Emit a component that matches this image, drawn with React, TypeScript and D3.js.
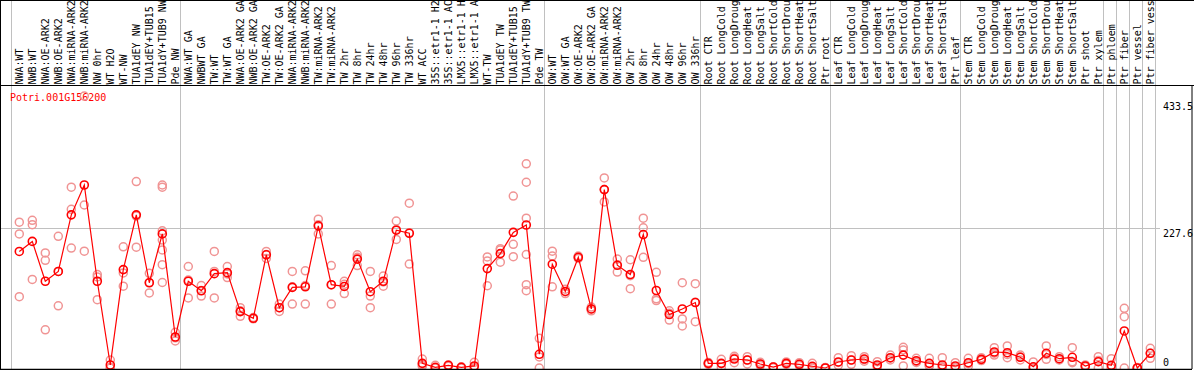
import React from "react";
import * as d3 from "d3";

const title = "Potri.001G156200";

const categories = [
  "NWA:WT", "NWB:WT", "NWA:OE-ARK2", "NWB:OE-ARK2", "NWA:miRNA-ARK2", "NWB:miRNA-ARK2",
  "NW 0hr", "WT H2O", "WT-NW", "TUA1dEY NW", "TUA1dEY+TUB15", "TUA1dY+TUB9 NW", "Pde NW",
  "NWA:WT GA", "NWBWT GA", "TW:WT", "TW:WT GA", "NWA:OE-ARK2 GA", "NWB:OE-ARK2 GA",
  "TW:OE-ARK2", "TW:OE-ARK2 GA", "NWA:miRNA-ARK2", "NWB:miRNA-ARK2", "TW:miRNA-ARK2",
  "TW:miRNA-ARK2", "TW 2hr", "TW 8hr", "TW 24hr", "TW 48hr", "TW 96hr", "TW 336hr",
  "WT ACC", "35S::etr1-1 H2", "35S::etr1-1 AC", "LMX5::etr1-1 H", "LMX5::etr1-1 A",
  "WT-TW", "TUA1dEY TW", "TUA1dEY+TUB15", "TUA1dY+TUB9 TW", "Pde TW",
  "OW:WT", "OW:WT GA", "OW:OE-ARK2", "OW:OE-ARK2 GA", "OW:miRNA-ARK2", "OW:miRNA-ARK2",
  "OW 2hr", "OW 8hr", "OW 24hr", "OW 48hr", "OW 96hr", "OW 336hr",
  "Root CTR", "Root LongCold", "Root LongDroug", "Root LongHeat", "Root LongSalt",
  "Root ShortCold", "Root ShortDrou", "Root ShortHeat", "Root ShortSalt", "Ptr root",
  "Leaf CTR", "Leaf LongCold", "Leaf LongDroug", "Leaf LongHeat", "Leaf LongSalt",
  "Leaf ShortCold", "Leaf ShortDrou", "Leaf ShortHeat", "Leaf ShortSalt", "Ptr leaf",
  "Stem CTR", "Stem LongCold", "Stem LongDroug", "Stem LongHeat", "Stem LongSalt",
  "Stem ShortCold", "Stem ShortDrou", "Stem ShortHeat", "Stem ShortSalt", "Ptr shoot",
  "Ptr xylem", "Ptr phloem", "Ptr fiber", "Ptr vessel", "Ptr fiber vess",
];

const means = [
  189.5, 205.8, 141, 157, 249, 297.5, 141, 4.9, 160, 249, 138.6, 218, 50.4,
  141, 125.6, 153.4, 155, 91.7, 80.8, 184, 98, 131, 132, 231, 135.4, 132.6, 177, 124, 141, 224, 219,
  7.6, 1.1, 4.4, 1.1, 3.3, 161.6, 186, 220.5, 232.5, 22.3,
  168.7, 124.4, 180, 96, 290, 167, 152, 217, 126, 87, 96, 106.4,
  7.6, 7.6, 14.6, 13, 6.5, 1.6, 7.6, 6, 2.8, 0,
  9.8, 13, 14.6, 4.9, 16.7, 21, 11.9, 7.6, 4.9, 3.3,
  8.6, 14.1, 26, 24.9, 17.4, 2, 23.9, 15.1, 17.4, 3.3,
  10.2, 4.4, 60.2, 0, 23.9,
];

const replicates = [
  [237, 218, 116], [240, 233, 144], [187, 175, 62], [214, 157, 101], [294, 258, 195],
  [442, 265, 190], [152, 148, 111], [13, 0, 0], [197, 154.5, 133], [303, 247, 196.5],
  [154, 139, 122], [297.5, 294, 223, 208, 192, 168, 139], [58, 49, 43.9],
  [165, 143, 114], [134, 126, 117], [189.5, 157, 114], [165, 153, 147], [98, 93, 84],
  [82, 81, 80], [189.5, 184.5, 178], [104, 98, 92], [157, 132, 104], [158, 134, 104],
  [242, 233, 218], [166.5, 135, 104], [141, 136, 121], [184, 180, 166.5], [157, 117, 98],
  [149.5, 140, 133], [239, 225, 209], [268, 220, 169],
  [14.6, 5, 3], [4.4, 0, 0], [5, 4, 3], [2, 1, 0], [9.3, 1, 0],
  [180.6, 174, 133.7], [194, 192, 172], [279.5, 201, 181], [332, 302, 243.5, 184.5, 135.4, 125.6],
  [48.3, 18, 0],
  [190, 182, 132], [128, 124, 121], [182, 180, 178], [99, 96, 93], [309, 290, 270],
  [177, 168, 156], [176, 150, 129], [243.5, 228, 180], [155.6, 112.4, 109.7], [93, 89, 78],
  [138.6, 79.7, 68.3], [137, 107, 75.3],
  [9, 7, 6], [14.1, 7, 1.1], [19, 16.3, 8.6], [18.4, 13, 6.5], [9.3, 6, 4],
  [2, 1, 1], [9.8, 7, 6], [8.6, 6, 4], [7.6, 1, 0], [1, 0, 0],
  [16.7, 9, 4.4], [20, 13, 6], [18.4, 14, 11], [10.2, 3, 1.5], [21, 16, 13],
  [33.6, 29.3, 3.3], [15.8, 10.2, 9], [15.8, 4, 3.3], [16.7, 2, 1], [8.6, 1, 0.5],
  [15.8, 7, 3], [16.7, 14, 12], [33, 24, 21], [35.8, 22, 16.7], [21, 18, 13],
  [9.8, 0, 0], [35.8, 22, 14.1], [18.4, 14, 13], [33, 10, 8.6], [5, 3, 2],
  [18.4, 12, 0], [15.1, 0, 0], [97, 83.4, 0], [1, 0, 0], [32, 24, 15.8],
];

const groupBreaks = [0, 13, 41, 53, 63, 73, 84, 85, 86, 87, 88];
const yTicks = [0, 227.6, 433.5];
const yGrid = [227.6];

const W = 1194;
const H = 370;
const FONT = "'DejaVu Sans Mono', 'Liberation Mono', monospace";
const RED = "#FF0000";
const PINK = "#F09494";

export default function App() {
  const x = d3.scaleLinear().domain([0, 88]).range([11, 1155]);
  const cx = (i: number) => x(i) + 8.3;
  const y = d3.scaleLinear().domain([0, 227.6]).range([368, 228]);
  const headerBottom = 85.5;
  const plotBottom = 369;

  const line = d3
    .line<number>()
    .x((_, i) => cx(i))
    .y((d) => y(d));

  return (
    <svg
      width={W}
      height={H}
      style={{ position: "absolute", left: 0, top: 0, background: "#fff" }}
      fontFamily={FONT}
      fontSize={10}
    >
      <rect x={0} y={0} width={W} height={H} fill="#fff" />
      {groupBreaks.map((k) => (
        <line
          key={"v" + k}
          x1={Math.round(x(k)) + 0.5}
          x2={Math.round(x(k)) + 0.5}
          y1={0}
          y2={plotBottom}
          stroke="#C0C0C0"
          strokeWidth={1}
        />
      ))}
      {yGrid.map((v) => (
        <line
          key={"h" + v}
          x1={1}
          x2={1160}
          y1={Math.round(y(v)) + 0.5}
          y2={Math.round(y(v)) + 0.5}
          stroke="#C0C0C0"
          strokeWidth={1}
        />
      ))}
      <text x={10} y={101} fill={RED}>
        {title}
      </text>
      {replicates.map((reps, i) =>
        reps.map((v, j) => (
          <circle
            key={`r${i}-${j}`}
            cx={cx(i)}
            cy={y(v)}
            r={4}
            fill="none"
            stroke={PINK}
            strokeWidth={1.5}
          />
        ))
      )}
      <path d={line(means) || ""} fill="none" stroke={RED} strokeWidth={1.2} />
      {means.map((v, i) => (
        <circle
          key={"m" + i}
          cx={cx(i)}
          cy={y(v)}
          r={4}
          fill="none"
          stroke={RED}
          strokeWidth={1.6}
        />
      ))}
      {categories.map((c, i) => (
        <text
          key={"c" + i}
          transform={`translate(${cx(i) + 3.7},84.5) rotate(-90)`}
          fill="#000"
        >
          {c}
        </text>
      ))}
      {yTicks.map((v) => (
        <text key={"t" + v} x={1163} y={Math.min(y(v) + 8.5, 366)} fill="#000">
          {String(v)}
        </text>
      ))}
      <line x1={0} x2={W} y1={0.5} y2={0.5} stroke="#000" />
      <line x1={0} x2={W} y1={headerBottom} y2={headerBottom} stroke="#000" />
      <line x1={0.5} x2={0.5} y1={0} y2={plotBottom} stroke="#000" />
      <line x1={0} x2={1192} y1={plotBottom + 0.5} y2={plotBottom + 0.5} stroke="#000" strokeWidth={1.5} />
      <line x1={1192} x2={1192} y1={headerBottom} y2={plotBottom} stroke="#000" />
    </svg>
  );
}
